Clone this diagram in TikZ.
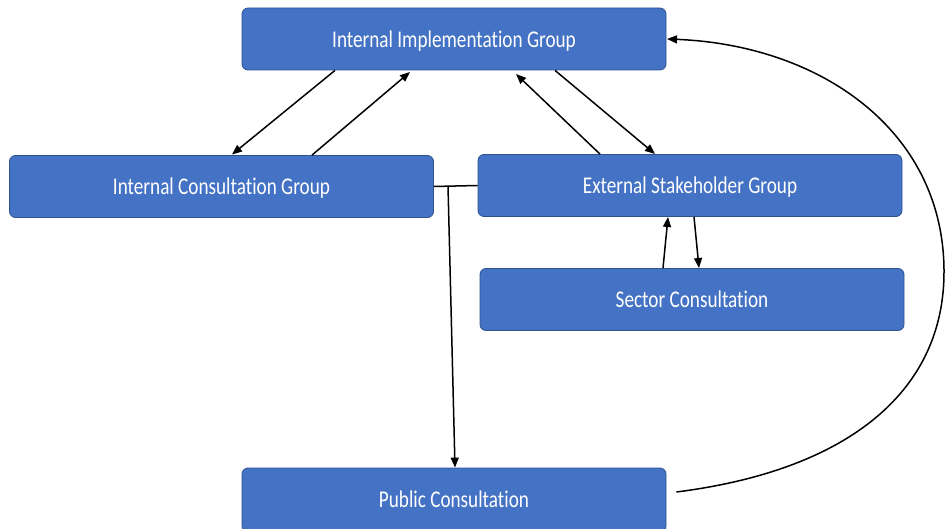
\documentclass[tikz,border=0pt]{standalone}
\usepackage{fontspec}
\setmainfont{Carlito}
\newfontfamily\boxfont[FakeStretch=0.8,Ligatures=NoCommon]{Carlito}
\usetikzlibrary{arrows.meta}
\definecolor{boxfill}{HTML}{4472C4}
\definecolor{boxedge}{HTML}{2F528F}
\begin{document}
\begin{tikzpicture}[x=1pt,y=-1pt,
  gbox/.style={draw=boxedge,line width=0.8pt,fill=boxfill,rounded corners=6pt,
    minimum width=424pt,minimum height=62pt,inner sep=0pt,text depth=0pt,
    text=white,font=\boxfont\fontsize{24}{28}\selectfont},
  conn/.style={line width=1.5pt,-{Triangle[length=10pt,width=8pt]}},
  plain/.style={line width=1.5pt}]
\useasboundingbox (0,0) rectangle (945,529);
\node[gbox] (iig) at (454,39) {Internal Implementation Group};
\node[gbox] (icg) at (221.5,186.5) {Internal Consultation Group};
\node[gbox] (esg) at (690,185.5) {External Stakeholder Group};
\node[gbox] (sc) at (692,299.5) {Sector Consultation};
\node[gbox,minimum height=64pt] (pc) at (454,500) {};
\node[text=white,text depth=0pt,font=\boxfont\fontsize{24}{28}\selectfont] (pct) at (454,499) {Public Consultation};
% iig <-> icg
\draw[conn] (iig.south west -| 335,70) -- (232,154.5);
\draw[conn] (icg.north -| 312,156) -- (410,72);
% iig <-> esg
\draw[conn] (esg.north -| 600,155) -- (516,74);
\draw[conn] (iig.south -| 555,70) -- (655,154);
% esg <-> sc
\draw[conn] (sc.north -| 663,269) -- (668,217);
\draw[conn] (esg.south -| 694,216) -- (699,268);
% icg -- esg with drop to pc
\draw[plain] (icg.east) -- (esg.west);
\coordinate (jn) at (448,186);
\draw[conn] (jn) -- (pc.north -| 455,0);
% pc -> iig curve
\draw[conn] ([shift={(10,-8)}]pc.east)
  .. controls (850,470) and (945,390) .. (944,270)
  .. controls (943,130) and (820,45) .. (667,39);
\end{tikzpicture}
\end{document}
